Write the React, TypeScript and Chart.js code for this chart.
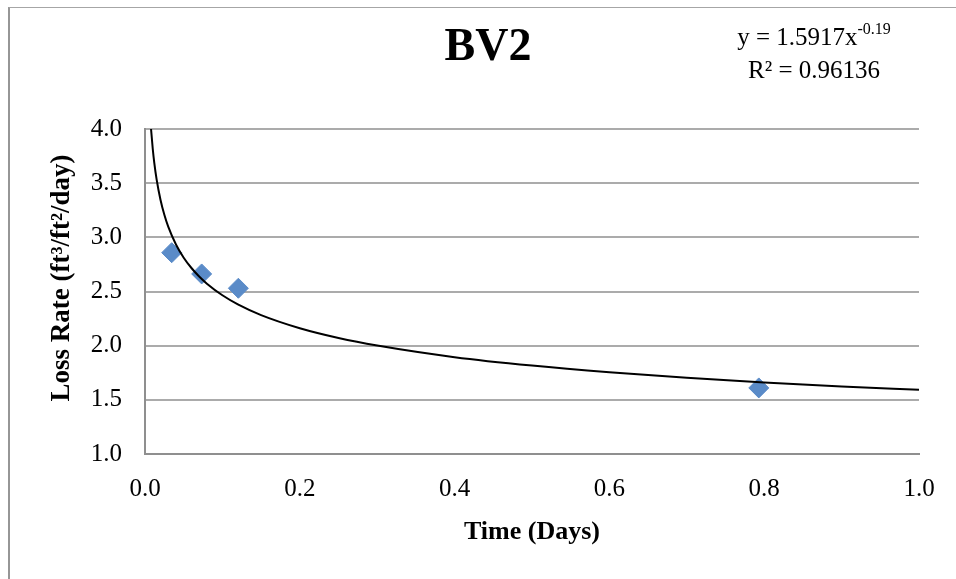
import React, { useEffect, useRef } from "react";
import { Chart, registerables } from "chart.js";

Chart.register(...registerables);

const pointX = [0.0345, 0.0732, 0.1206, 0.793];
const pointY = [2.858, 2.662, 2.53, 1.61];

const trendX = [0.0075, 0.008, 0.01, 0.012, 0.015, 0.02, 0.025, 0.03, 0.04, 0.05, 0.06, 0.07, 0.08, 0.1, 0.12, 0.15, 0.2, 0.25, 0.3, 0.4, 0.5, 0.6, 0.7, 0.8, 0.9, 1.0];
const trendY = [4.033, 3.984, 3.818, 3.688, 3.535, 3.347, 3.208, 3.099, 2.934, 2.812, 2.717, 2.638, 2.572, 2.465, 2.381, 2.282, 2.161, 2.071, 2.001, 1.894, 1.816, 1.754, 1.703, 1.661, 1.624, 1.592];

const xTicks = [0, 0.2, 0.4, 0.6, 0.8, 1.0];
const yTicks = [1.0, 1.5, 2.0, 2.5, 3.0, 3.5, 4.0];

const chartTitle = "BV2";
const equationMain = "y = 1.5917x";
const equationExp = "-0.19";
const rSquared = "R² = 0.96136";
const xTitle = "Time (Days)";
const yTitle = "Loss Rate (ft³/ft²/day)";

const SERIF = "'Liberation Serif', 'Times New Roman', serif";

const textPlugin = {
  id: "textOverlay",
  afterDraw(chart: any) {
    const ctx = chart.ctx;
    ctx.save();
    ctx.fillStyle = "#000";
    ctx.textBaseline = "middle";
    ctx.textAlign = "center";
    ctx.font = `bold 46px ${SERIF}`;
    ctx.fillText(chartTitle, 478, 40);

    // equation
    ctx.font = `25px ${SERIF}`;
    const w1 = ctx.measureText(equationMain).width;
    ctx.font = `16px ${SERIF}`;
    const w2 = ctx.measureText(equationExp).width;
    const cx = 804;
    const start = cx - (w1 + w2) / 2;
    ctx.textAlign = "left";
    ctx.font = `25px ${SERIF}`;
    ctx.fillText(equationMain, start, 30);
    ctx.font = `16px ${SERIF}`;
    ctx.fillText(equationExp, start + w1, 22);
    ctx.textAlign = "center";
    ctx.font = `25px ${SERIF}`;
    ctx.fillText(rSquared, cx, 63);

    // y axis title
    ctx.save();
    ctx.translate(52, 270);
    ctx.rotate(-Math.PI / 2);
    ctx.font = `bold 27px ${SERIF}`;
    ctx.textAlign = "center";
    ctx.fillText(yTitle, 0, 0);
    ctx.restore();
    ctx.restore();
  },
};

export default function App() {
  const ref = useRef<HTMLCanvasElement | null>(null);

  useEffect(() => {
    if (!ref.current) return;
    const chart = new Chart(ref.current, {
      type: "scatter",
      data: {
        datasets: [
          {
            label: "Trend",
            type: "line",
            data: trendX.map((x, i) => ({ x, y: trendY[i] })),
            borderColor: "#000",
            borderWidth: 2,
            pointRadius: 0,
            fill: false,
            cubicInterpolationMode: "monotone",
            order: 1,
          },
          {
            label: "BV2",
            data: pointX.map((x, i) => ({ x, y: pointY[i] })),
            pointStyle: "rectRot",
            pointRadius: 10,
            backgroundColor: "#5a8bc8",
            borderColor: "#5a8bc8",
            borderWidth: 1,
            order: 2,
          },
        ],
      },
      options: {
        animation: false,
        responsive: false,
        layout: { padding: { top: 121, right: 37, left: 0, bottom: 0 } },
        plugins: {
          legend: { display: false },
          tooltip: { enabled: false },
          title: { display: false },
        },
        scales: {
          x: {
            type: "linear",
            min: 0,
            max: 1,
            afterFit: (s: any) => {
              s.height = 125;
            },
            afterBuildTicks: (s: any) => {
              s.ticks = xTicks.map((v) => ({ value: v }));
            },
            grid: { display: false, drawTicks: false },
            border: { display: true, color: "#8f8f8f", width: 2 },
            ticks: {
              padding: 20,
              color: "#000",
              font: { family: SERIF, size: 25 },
              callback: (v: any) => Number(v).toFixed(1),
            },
            title: {
              display: true,
              text: xTitle,
              color: "#000",
              font: { family: SERIF, size: 26, weight: "bold" },
              padding: { top: 0, bottom: 31 },
            },
          },
          y: {
            type: "linear",
            min: 1,
            max: 4,
            afterFit: (s: any) => {
              s.width = 135;
            },
            afterBuildTicks: (s: any) => {
              s.ticks = yTicks.map((v) => ({ value: v }));
            },
            grid: { color: "#ababab", lineWidth: 2, drawTicks: false },
            border: { display: true, color: "#8f8f8f", width: 2 },
            ticks: {
              padding: 23,
              color: "#000",
              font: { family: SERIF, size: 25 },
              callback: (v: any) => Number(v).toFixed(1),
            },
            title: { display: false },
          },
        },
      },
      plugins: [textPlugin],
    } as any);
    return () => chart.destroy();
  }, []);

  return (
    <div
      style={{
        position: "fixed",
        left: 8,
        top: 7,
        width: 948,
        height: 572,
        borderLeft: "2px solid #969696",
        borderTop: "1px solid #a6a6a6",
        background: "#fff",
        overflow: "hidden",
      }}
    >
      <canvas ref={ref} width={946} height={571} style={{ display: "block" }} />
    </div>
  );
}
